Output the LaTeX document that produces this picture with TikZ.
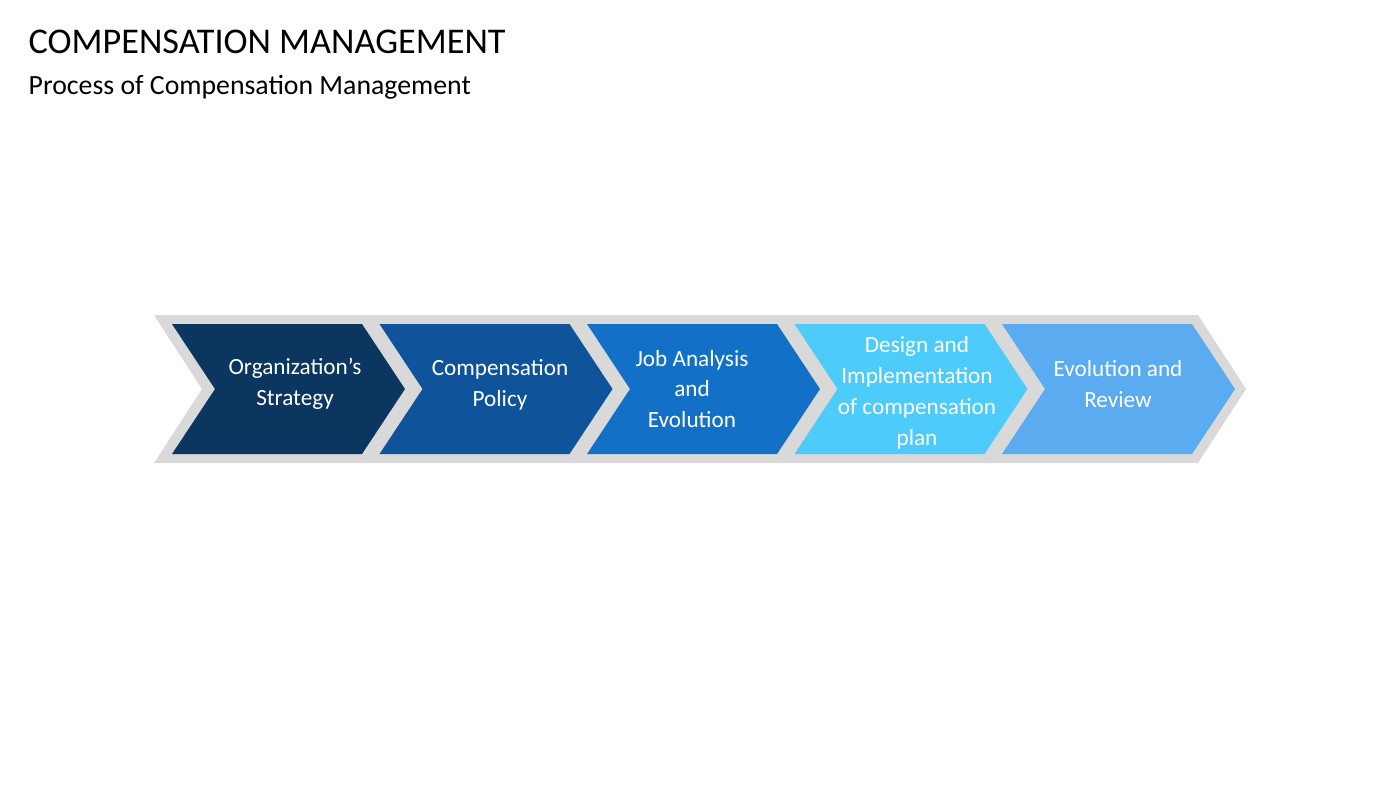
\documentclass[tikz,border=0pt]{standalone}
\usepackage{fontspec}
\setmainfont{Carlito}
\definecolor{cA}{HTML}{0A3660}
\definecolor{cB}{HTML}{0F549A}
\definecolor{cC}{HTML}{1270C7}
\definecolor{cD}{HTML}{4DCBFA}
\definecolor{cE}{HTML}{5AABF0}
\definecolor{frame}{HTML}{D9D9D9}
\tikzset{lbl/.style={text=white,align=center,font=\fontsize{6.6}{8.8}\selectfont,inner sep=0pt}}
\begin{document}
\begin{tikzpicture}[x=0.01cm,y=-0.01cm]
\useasboundingbox (0,0) rectangle (1400,787);
\node[anchor=west,inner sep=0pt,font=\fontsize{10.3}{12}\selectfont] (title) at (28,42) {COMPENSATION MANAGEMENT};
\node[anchor=west,inner sep=0pt,font=\fontsize{7.9}{10}\selectfont] (sub) at (28,87) {Process of Compensation Management};
\foreach \i/\c in {0/cA,1/cB,2/cC,3/cD,4/cE}{
  \pgfmathsetmacro{\x}{172+207.5*\i}
  \fill[frame] (\x-18,315) -- (\x+196,315) -- (\x+244,389) -- (\x+196,463) -- (\x-18,463) -- (\x+30,389) -- cycle;
  \fill[\c] (\x,324) -- (\x+190,324) -- (\x+233,389) -- (\x+190,454) -- (\x,454) -- (\x+43,389) -- cycle;
}
\node[lbl] (s1) at (295,384) {Organization’s\\Strategy};
\node[lbl] (s2) at (500,385) {Compensation\\Policy};
\node[lbl] (s3) at (692,389) {Job Analysis\\and\\Evolution};
\node[lbl] (s4) at (917,393) {Design and\\Implementation\\of compensation\\plan};
\node[lbl] (s5) at (1118,384) {Evolution and\\Review};
\end{tikzpicture}
\end{document}
